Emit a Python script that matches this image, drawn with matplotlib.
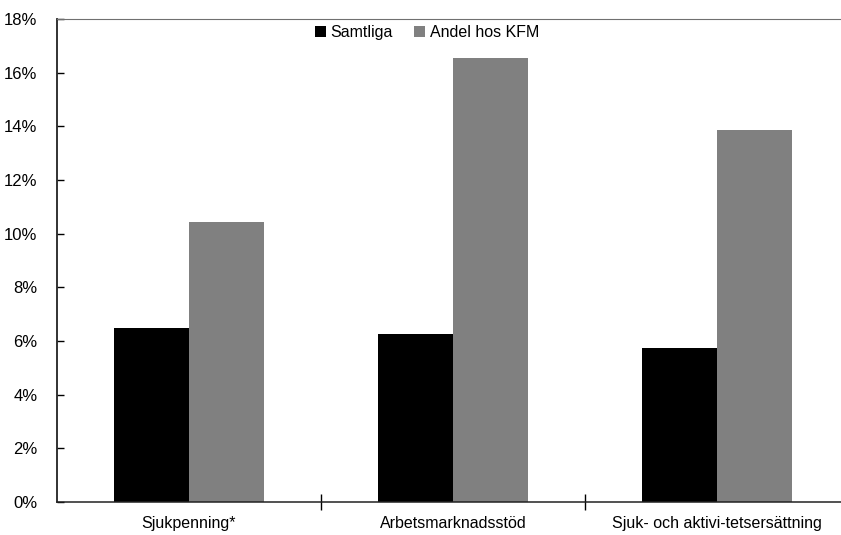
import numpy as np
import matplotlib
matplotlib.use("Agg")
import matplotlib.pyplot as plt

plt.rcParams["font.family"] = ["Liberation Sans", "DejaVu Sans"]

categories = ["Sjukpenning*", "Arbetsmarknadsstöd", "Sjuk- och aktivi-tetsersättning"]
samtliga = [6.5, 6.25, 5.75]
andel_kfm = [10.45, 16.55, 13.85]
yticks = [0, 2, 4, 6, 8, 10, 12, 14, 16, 18]

fig = plt.figure(figsize=(8.41, 5.35), dpi=100)
# plot area runs slightly past the right edge, as in the original
ax = fig.add_axes([57 / 841, 1 - 502 / 535, 792 / 841, 483 / 535])

x = np.arange(len(categories))
w = 0.284
ax.bar(x - w / 2, samtliga, width=w, color="black", label="Samtliga")
ax.bar(x + w / 2, andel_kfm, width=w, color="#808080", label="Andel hos KFM")

ax.set_xlim(-0.5, 2.5)
ax.set_ylim(0, 18)
ax.set_yticks(yticks)
ax.set_yticklabels([f"{v}%" for v in yticks], fontsize=12)
ax.tick_params(axis="y", direction="in", length=5, width=1, pad=14)

ax.set_xticks(x)
ax.set_xticklabels(categories, fontsize=11.5)
ax.set_xticks([0.5, 1.5], minor=True)
ax.tick_params(axis="x", which="major", length=0, pad=10)
ax.tick_params(axis="x", which="minor", direction="inout", length=12, width=1)

ax.spines["left"].set_color("#222222")
ax.spines["bottom"].set_color("#222222")
ax.spines["left"].set_linewidth(1.3)
ax.spines["bottom"].set_linewidth(1.1)
ax.spines["top"].set_color("#707070")
ax.spines["right"].set_color("#707070")

ax.legend(loc="upper center", bbox_to_anchor=(0.467, 1.018), ncol=2, frameon=False,
          fontsize=11.5, handlelength=0.7, handleheight=0.7, handletextpad=0.3,
          columnspacing=1.3)

fig.savefig("out.png", dpi=100)
